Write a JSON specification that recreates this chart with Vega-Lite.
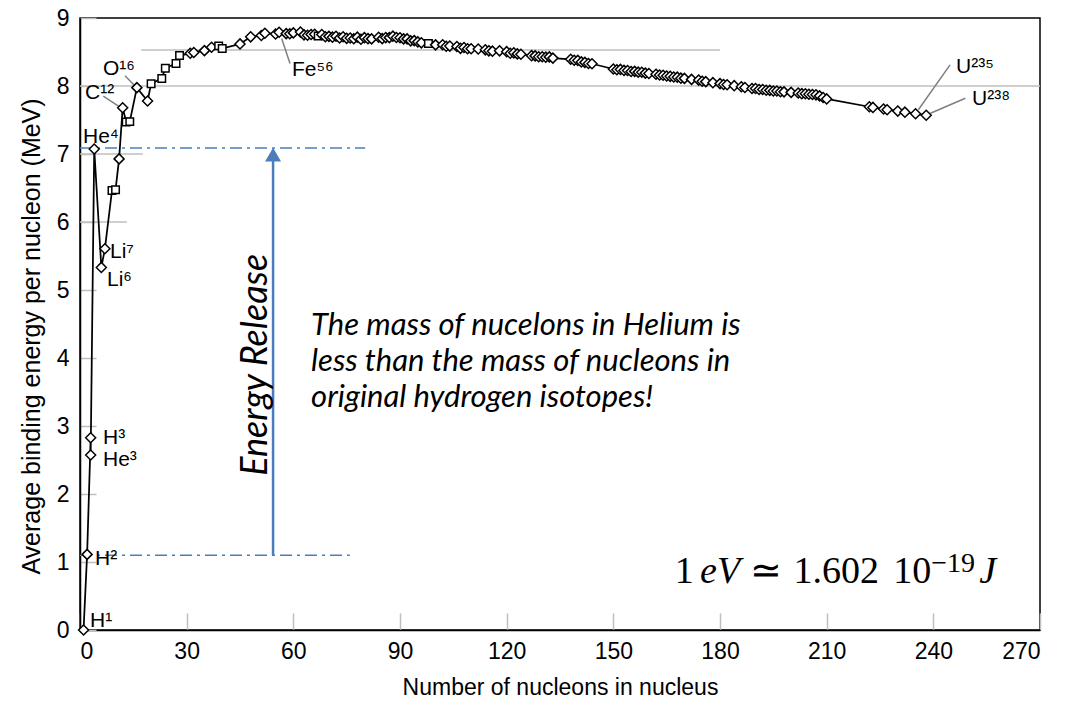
{
  "$schema": "https://vega.github.io/schema/vega-lite/v6.json",
  "width": 960,
  "height": 612,
  "autosize": {"type": "none"},
  "padding": {"left": 80, "top": 18, "right": 26, "bottom": 77},
  "background": "white",
  "config": {
    "font": "Liberation Sans",
    "view": {"stroke": "black", "strokeWidth": 1.5},
    "axis": {"grid": false, "domainColor": "black", "domainWidth": 1.5, "tickColor": "#bfbfbf", "tickWidth": 1.5, "labelColor": "black", "titleColor": "black", "labelFont": "Liberation Sans", "titleFont": "Liberation Sans", "titleFontWeight": "normal"}
  },
  "datasets": {
    "nuclides": [
      {"i": 1, "A": 1, "BE": 0, "set": "d"},
      {"i": 2, "A": 2, "BE": 1.112, "set": "d"},
      {"i": 3, "A": 3, "BE": 2.827, "set": "d"},
      {"i": 4, "A": 3, "BE": 2.573, "set": "d"},
      {"i": 5, "A": 4, "BE": 7.074, "set": "d"},
      {"i": 6, "A": 6, "BE": 5.332, "set": "d"},
      {"i": 7, "A": 7, "BE": 5.606, "set": "d"},
      {"i": 8, "A": 9, "BE": 6.463, "set": "s"},
      {"i": 9, "A": 10, "BE": 6.475, "set": "s"},
      {"i": 10, "A": 11, "BE": 6.928, "set": "d"},
      {"i": 11, "A": 12, "BE": 7.68, "set": "d"},
      {"i": 12, "A": 13, "BE": 7.47, "set": "s"},
      {"i": 13, "A": 14, "BE": 7.476, "set": "s"},
      {"i": 14, "A": 16, "BE": 7.976, "set": "d"},
      {"i": 15, "A": 19, "BE": 7.779, "set": "d"},
      {"i": 16, "A": 20, "BE": 8.032, "set": "s"},
      {"i": 17, "A": 23, "BE": 8.112, "set": "s"},
      {"i": 18, "A": 24, "BE": 8.261, "set": "s"},
      {"i": 19, "A": 27, "BE": 8.332, "set": "s"},
      {"i": 20, "A": 28, "BE": 8.448, "set": "s"},
      {"i": 21, "A": 31, "BE": 8.481, "set": "d"},
      {"i": 22, "A": 32, "BE": 8.493, "set": "d"},
      {"i": 23, "A": 35, "BE": 8.52, "set": "d"},
      {"i": 24, "A": 37, "BE": 8.57, "set": "d"},
      {"i": 25, "A": 39, "BE": 8.59, "set": "s"},
      {"i": 26, "A": 40, "BE": 8.55, "set": "s"},
      {"i": 27, "A": 45, "BE": 8.619, "set": "d"},
      {"i": 28, "A": 48, "BE": 8.723, "set": "d"},
      {"i": 29, "A": 51, "BE": 8.742, "set": "d"},
      {"i": 30, "A": 52, "BE": 8.776, "set": "d"},
      {"i": 31, "A": 55, "BE": 8.765, "set": "d"},
      {"i": 32, "A": 56, "BE": 8.79, "set": "d"},
      {"i": 33, "A": 58, "BE": 8.77, "set": "d"},
      {"i": 34, "A": 59, "BE": 8.768, "set": "d"},
      {"i": 35, "A": 60, "BE": 8.781, "set": "d"},
      {"i": 36, "A": 62, "BE": 8.795, "set": "d"},
      {"i": 37, "A": 63, "BE": 8.752, "set": "d"},
      {"i": 38, "A": 64, "BE": 8.746, "set": "d"},
      {"i": 39, "A": 65, "BE": 8.757, "set": "d"},
      {"i": 40, "A": 66, "BE": 8.76, "set": "d"},
      {"i": 41, "A": 67, "BE": 8.734, "set": "s"},
      {"i": 42, "A": 68, "BE": 8.756, "set": "d"},
      {"i": 43, "A": 69, "BE": 8.724, "set": "d"},
      {"i": 44, "A": 70, "BE": 8.73, "set": "d"},
      {"i": 45, "A": 71, "BE": 8.718, "set": "d"},
      {"i": 46, "A": 72, "BE": 8.732, "set": "d"},
      {"i": 47, "A": 73, "BE": 8.705, "set": "d"},
      {"i": 48, "A": 74, "BE": 8.725, "set": "d"},
      {"i": 49, "A": 75, "BE": 8.701, "set": "d"},
      {"i": 50, "A": 76, "BE": 8.705, "set": "d"},
      {"i": 51, "A": 77, "BE": 8.695, "set": "d"},
      {"i": 52, "A": 78, "BE": 8.718, "set": "d"},
      {"i": 53, "A": 79, "BE": 8.688, "set": "d"},
      {"i": 54, "A": 80, "BE": 8.711, "set": "d"},
      {"i": 55, "A": 81, "BE": 8.696, "set": "d"},
      {"i": 56, "A": 82, "BE": 8.693, "set": "d"},
      {"i": 57, "A": 84, "BE": 8.717, "set": "d"},
      {"i": 58, "A": 85, "BE": 8.697, "set": "d"},
      {"i": 59, "A": 86, "BE": 8.712, "set": "d"},
      {"i": 60, "A": 87, "BE": 8.711, "set": "d"},
      {"i": 61, "A": 88, "BE": 8.733, "set": "d"},
      {"i": 62, "A": 89, "BE": 8.714, "set": "d"},
      {"i": 63, "A": 90, "BE": 8.71, "set": "d"},
      {"i": 64, "A": 91, "BE": 8.693, "set": "d"},
      {"i": 65, "A": 92, "BE": 8.693, "set": "d"},
      {"i": 66, "A": 93, "BE": 8.664, "set": "d"},
      {"i": 67, "A": 94, "BE": 8.667, "set": "d"},
      {"i": 68, "A": 95, "BE": 8.649, "set": "d"},
      {"i": 69, "A": 96, "BE": 8.635, "set": "d"},
      {"i": 70, "A": 98, "BE": 8.625, "set": "s"},
      {"i": 71, "A": 100, "BE": 8.605, "set": "d"},
      {"i": 72, "A": 102, "BE": 8.607, "set": "d"},
      {"i": 73, "A": 103, "BE": 8.584, "set": "d"},
      {"i": 74, "A": 104, "BE": 8.587, "set": "d"},
      {"i": 75, "A": 106, "BE": 8.58, "set": "d"},
      {"i": 76, "A": 107, "BE": 8.554, "set": "d"},
      {"i": 77, "A": 108, "BE": 8.567, "set": "d"},
      {"i": 78, "A": 109, "BE": 8.548, "set": "d"},
      {"i": 79, "A": 110, "BE": 8.547, "set": "d"},
      {"i": 80, "A": 112, "BE": 8.545, "set": "d"},
      {"i": 81, "A": 114, "BE": 8.532, "set": "d"},
      {"i": 82, "A": 115, "BE": 8.517, "set": "d"},
      {"i": 83, "A": 116, "BE": 8.512, "set": "d"},
      {"i": 84, "A": 118, "BE": 8.517, "set": "d"},
      {"i": 85, "A": 120, "BE": 8.505, "set": "d"},
      {"i": 86, "A": 121, "BE": 8.482, "set": "d"},
      {"i": 87, "A": 122, "BE": 8.488, "set": "d"},
      {"i": 88, "A": 123, "BE": 8.472, "set": "d"},
      {"i": 89, "A": 124, "BE": 8.467, "set": "d"},
      {"i": 90, "A": 127, "BE": 8.446, "set": "d"},
      {"i": 91, "A": 128, "BE": 8.443, "set": "d"},
      {"i": 92, "A": 129, "BE": 8.431, "set": "d"},
      {"i": 93, "A": 130, "BE": 8.43, "set": "d"},
      {"i": 94, "A": 131, "BE": 8.424, "set": "d"},
      {"i": 95, "A": 132, "BE": 8.428, "set": "d"},
      {"i": 96, "A": 133, "BE": 8.41, "set": "d"},
      {"i": 97, "A": 138, "BE": 8.393, "set": "d"},
      {"i": 98, "A": 139, "BE": 8.378, "set": "d"},
      {"i": 99, "A": 140, "BE": 8.376, "set": "d"},
      {"i": 100, "A": 141, "BE": 8.354, "set": "d"},
      {"i": 101, "A": 142, "BE": 8.347, "set": "d"},
      {"i": 102, "A": 143, "BE": 8.33, "set": "d"},
      {"i": 103, "A": 144, "BE": 8.327, "set": "d"},
      {"i": 104, "A": 150, "BE": 8.25, "set": "d"},
      {"i": 105, "A": 151, "BE": 8.239, "set": "d"},
      {"i": 106, "A": 152, "BE": 8.244, "set": "d"},
      {"i": 107, "A": 153, "BE": 8.229, "set": "d"},
      {"i": 108, "A": 154, "BE": 8.227, "set": "d"},
      {"i": 109, "A": 155, "BE": 8.213, "set": "d"},
      {"i": 110, "A": 156, "BE": 8.215, "set": "d"},
      {"i": 111, "A": 157, "BE": 8.204, "set": "d"},
      {"i": 112, "A": 158, "BE": 8.202, "set": "d"},
      {"i": 113, "A": 159, "BE": 8.189, "set": "d"},
      {"i": 114, "A": 160, "BE": 8.183, "set": "d"},
      {"i": 115, "A": 162, "BE": 8.173, "set": "d"},
      {"i": 116, "A": 163, "BE": 8.162, "set": "d"},
      {"i": 117, "A": 164, "BE": 8.159, "set": "d"},
      {"i": 118, "A": 165, "BE": 8.147, "set": "d"},
      {"i": 119, "A": 166, "BE": 8.142, "set": "d"},
      {"i": 120, "A": 167, "BE": 8.132, "set": "d"},
      {"i": 121, "A": 168, "BE": 8.13, "set": "d"},
      {"i": 122, "A": 169, "BE": 8.115, "set": "d"},
      {"i": 123, "A": 170, "BE": 8.112, "set": "d"},
      {"i": 124, "A": 172, "BE": 8.097, "set": "d"},
      {"i": 125, "A": 174, "BE": 8.087, "set": "d"},
      {"i": 126, "A": 175, "BE": 8.069, "set": "d"},
      {"i": 127, "A": 176, "BE": 8.064, "set": "d"},
      {"i": 128, "A": 178, "BE": 8.049, "set": "d"},
      {"i": 129, "A": 180, "BE": 8.035, "set": "d"},
      {"i": 130, "A": 181, "BE": 8.023, "set": "d"},
      {"i": 131, "A": 182, "BE": 8.018, "set": "d"},
      {"i": 132, "A": 184, "BE": 8.005, "set": "d"},
      {"i": 133, "A": 186, "BE": 7.989, "set": "d"},
      {"i": 134, "A": 187, "BE": 7.978, "set": "d"},
      {"i": 135, "A": 189, "BE": 7.963, "set": "d"},
      {"i": 136, "A": 190, "BE": 7.963, "set": "d"},
      {"i": 137, "A": 191, "BE": 7.948, "set": "d"},
      {"i": 138, "A": 192, "BE": 7.949, "set": "d"},
      {"i": 139, "A": 193, "BE": 7.938, "set": "d"},
      {"i": 140, "A": 194, "BE": 7.936, "set": "d"},
      {"i": 141, "A": 195, "BE": 7.927, "set": "d"},
      {"i": 142, "A": 196, "BE": 7.927, "set": "d"},
      {"i": 143, "A": 197, "BE": 7.916, "set": "d"},
      {"i": 144, "A": 198, "BE": 7.914, "set": "d"},
      {"i": 145, "A": 200, "BE": 7.906, "set": "d"},
      {"i": 146, "A": 202, "BE": 7.897, "set": "d"},
      {"i": 147, "A": 203, "BE": 7.887, "set": "d"},
      {"i": 148, "A": 204, "BE": 7.886, "set": "d"},
      {"i": 149, "A": 205, "BE": 7.878, "set": "d"},
      {"i": 150, "A": 206, "BE": 7.875, "set": "d"},
      {"i": 151, "A": 207, "BE": 7.87, "set": "d"},
      {"i": 152, "A": 208, "BE": 7.855, "set": "d"},
      {"i": 153, "A": 209, "BE": 7.83, "set": "d"},
      {"i": 154, "A": 210, "BE": 7.81, "set": "d"},
      {"i": 155, "A": 222, "BE": 7.695, "set": "d"},
      {"i": 156, "A": 223, "BE": 7.685, "set": "d"},
      {"i": 157, "A": 226, "BE": 7.662, "set": "d"},
      {"i": 158, "A": 227, "BE": 7.651, "set": "d"},
      {"i": 159, "A": 230, "BE": 7.631, "set": "d"},
      {"i": 160, "A": 232, "BE": 7.615, "set": "d"},
      {"i": 161, "A": 235, "BE": 7.591, "set": "d"},
      {"i": 162, "A": 238, "BE": 7.57, "set": "d"}
    ]
  },
  "encoding": {
    "x": {"field": "A", "type": "quantitative", "scale": {"domain": [0, 270], "nice": false, "zero": false},
      "axis": {"title": "Number of nucleons in nucleus", "values": [0, 30, 60, 90, 120, 150, 180, 210, 240, 270], "tickSize": -17, "labelFontSize": 23, "titleFontSize": 23, "labelPadding": 27, "titlePadding": 13}},
    "y": {"field": "BE", "type": "quantitative", "scale": {"domain": [0, 9], "nice": false},
      "axis": {"title": "Average binding energy per nucleon (MeV)", "values": [0, 1, 2, 3, 4, 5, 6, 7, 8, 9], "tickSize": -16, "labelFontSize": 23, "titleFontSize": 25, "titleY": 318, "labelPadding": 27, "titlePadding": 12}}
  },
  "layer": [
    {
      "data": {"values": [
        {"A": 0, "A2": 270, "BE": 8},
        {"A": 17.2, "A2": 180, "BE": 8.53},
        {"A": 0, "A2": 17.7, "BE": 7},
        {"A": 0, "A2": 13.2, "BE": 6}
      ]},
      "mark": {"type": "rule", "color": "#bfbfbf", "strokeWidth": 1.5},
      "encoding": {"x2": {"field": "A2"}}
    },
    {
      "data": {"values": [
        {"A": 0, "A2": 80.2, "BE": 7.09},
        {"A": 0, "A2": 75.9, "BE": 1.1}
      ]},
      "mark": {"type": "rule", "color": "#4a7ebb", "strokeWidth": 1.5, "strokeDash": [12, 5, 3, 5]},
      "encoding": {"x2": {"field": "A2"}}
    },
    {
      "data": {"values": [{"A": 54.3, "BE": 1.1, "BE2": 6.9}]},
      "mark": {"type": "rule", "color": "#4a7ebb", "strokeWidth": 2.5},
      "encoding": {"y2": {"field": "BE2"}}
    },
    {
      "data": {"values": [{"A": 54.3, "BE": 6.99}]},
      "mark": {"type": "point", "shape": "triangle-up", "filled": true, "color": "#4a7ebb", "size": 256, "opacity": 1}
    },
    {
      "data": {"values": [
        {"A": 6.55, "BE": 7.85, "A2": 11.25, "BE2": 7.69},
        {"A": 12.66, "BE": 8.15, "A2": 15.47, "BE2": 8.0},
        {"A": 59.06, "BE": 8.33, "A2": 56.73, "BE2": 8.7},
        {"A": 244.7, "BE": 8.31, "A2": 235.8, "BE2": 7.65},
        {"A": 249.0, "BE": 7.82, "A2": 239.2, "BE2": 7.6}
      ]},
      "mark": {"type": "rule", "color": "#808080", "strokeWidth": 1.5},
      "encoding": {"x2": {"field": "A2"}, "y2": {"field": "BE2"}}
    },
    {
      "data": {"name": "nuclides"},
      "mark": {"type": "line", "color": "black", "strokeWidth": 1.75},
      "encoding": {"order": {"field": "i", "type": "quantitative"}}
    },
    {
      "data": {"name": "nuclides"},
      "mark": {"type": "point", "filled": true, "fill": "white", "stroke": "black", "strokeWidth": 1.5, "opacity": 1},
      "encoding": {
        "shape": {"field": "set", "type": "nominal", "scale": {"domain": ["d", "s"], "range": ["diamond", "square"]}, "legend": null},
        "size": {"field": "set", "type": "nominal", "scale": {"domain": ["d", "s"], "range": [100, 56]}, "legend": null}
      }
    },
    {
      "data": {"values": [
        {"A": 2.81, "BE": 0.044, "t": "H¹"},
        {"A": 4.22, "BE": 0.956, "t": "H²"},
        {"A": 6.47, "BE": 2.73, "t": "H³"},
        {"A": 6.47, "BE": 2.41, "t": "He³"},
        {"A": 0.84, "BE": 7.16, "t": "He⁴"},
        {"A": 8.44, "BE": 5.47, "t": "Li⁷"},
        {"A": 7.59, "BE": 5.06, "t": "Li⁶"},
        {"A": 1.41, "BE": 7.81, "t": "C¹²"},
        {"A": 6.47, "BE": 8.16, "t": "O¹⁶"},
        {"A": 59.6, "BE": 8.15, "t": "Fe⁵⁶"},
        {"A": 246.4, "BE": 8.19, "t": "U²³⁵"},
        {"A": 250.9, "BE": 7.72, "t": "U²³⁸"}
      ]},
      "mark": {"type": "text", "align": "left", "baseline": "alphabetic", "fontSize": 21, "font": "Liberation Sans", "color": "black"},
      "encoding": {"text": {"field": "t"}}
    },
    {
      "data": {"values": [{"A": 49.5, "BE": 3.9, "t": "Energy Release"}]},
      "mark": {"type": "text", "angle": 270, "align": "center", "baseline": "middle", "fontSize": 36, "font": "Lato", "fontStyle": "italic", "color": "black"},
      "encoding": {"text": {"field": "t"}}
    },
    {
      "data": {"values": [{"A": 65.0, "BE": 4.338, "t": "The mass of nucelons in Helium is\nless than the mass of nucleons in\noriginal hydrogen isotopes!"}]},
      "mark": {"type": "text", "align": "left", "baseline": "alphabetic", "lineBreak": "\n", "lineHeight": 36, "fontSize": 31, "font": "Lato", "fontStyle": "italic", "color": "black"},
      "encoding": {"text": {"field": "t"}}
    },
    {
      "data": {"values": [
        {"A": 167.3, "BE": 0.69, "t": "1"},
        {"A": 188.3, "BE": 0.69, "t": "≃"},
        {"A": 200.7, "BE": 0.69, "t": "1.602"},
        {"A": 228.7, "BE": 0.69, "t": "10"}
      ]},
      "mark": {"type": "text", "align": "left", "baseline": "alphabetic", "fontSize": 38, "font": "Liberation Serif", "color": "black"},
      "encoding": {"text": {"field": "t"}}
    },
    {
      "data": {"values": [
        {"A": 174.4, "BE": 0.69, "t": "eV"},
        {"A": 252.9, "BE": 0.69, "t": "J"}
      ]},
      "mark": {"type": "text", "align": "left", "baseline": "alphabetic", "fontSize": 38, "font": "Liberation Serif", "fontStyle": "italic", "color": "black"},
      "encoding": {"text": {"field": "t"}}
    },
    {
      "data": {"values": [{"A": 239.4, "BE": 0.86, "t": "−19"}]},
      "mark": {"type": "text", "align": "left", "baseline": "alphabetic", "fontSize": 28, "font": "Liberation Serif", "color": "black"},
      "encoding": {"text": {"field": "t"}}
    }
  ]
}
